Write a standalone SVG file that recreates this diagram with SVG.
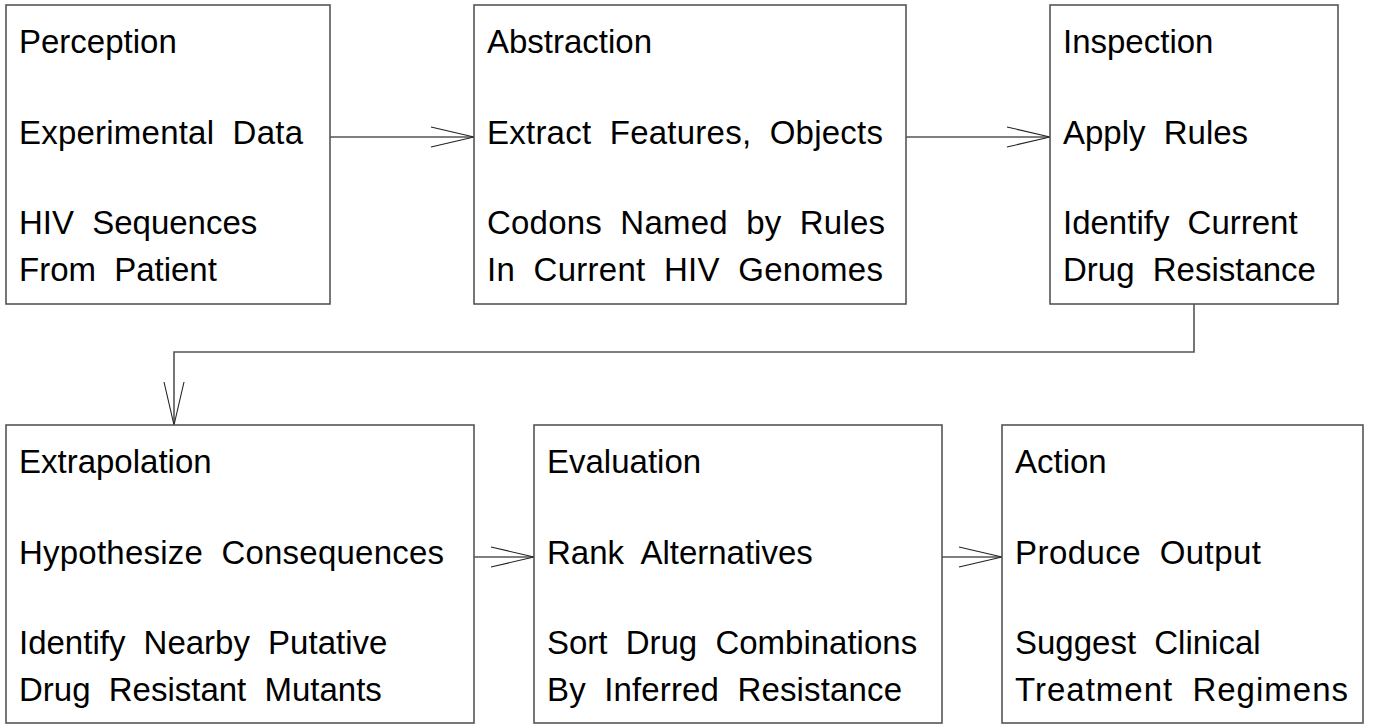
<svg xmlns="http://www.w3.org/2000/svg" width="1374" height="725" viewBox="0 0 1374 725">
<style>
.box{fill:#fff;stroke:#555;stroke-width:1.6}
.t{font-family:"Liberation Sans",Arial,sans-serif;font-size:33px;fill:#000;word-spacing:9px}
.ln{fill:none;stroke:#555;stroke-width:1.6}
.ah{fill:none;stroke:#222;stroke-width:1.1}
</style>
<rect width="1374" height="725" fill="#fff"/>
<g id="connectors">
<line class="ln" x1="330" y1="137" x2="474" y2="137"/>
<polyline class="ah" points="431,127 474,137 431,147"/>
<line class="ln" x1="906" y1="137" x2="1050" y2="137"/>
<polyline class="ah" points="1007,127 1050,137 1007,147"/>
<polyline class="ln" points="1194,304 1194,352 174,352 174,425"/>
<polyline class="ah" points="164,382 174,425 184,382"/>
<line class="ln" x1="474" y1="557" x2="534" y2="557"/>
<polyline class="ah" points="491,547 534,557 491,567"/>
<line class="ln" x1="942" y1="557" x2="1002" y2="557"/>
<polyline class="ah" points="959,547 1002,557 959,567"/>
</g>
<g id="perception">
<rect class="box" x="6" y="5" width="324" height="299"/>
<text class="t" x="19" y="53">Perception</text>
<text class="t" x="19" y="144" textLength="284" lengthAdjust="spacing">Experimental Data</text>
<text class="t" x="19" y="234">HIV Sequences</text>
<text class="t" x="19" y="281">From Patient</text>
</g>
<g id="abstraction">
<rect class="box" x="474" y="5" width="432" height="299"/>
<text class="t" x="487" y="53">Abstraction</text>
<text class="t" x="487" y="144" textLength="396" lengthAdjust="spacing">Extract Features, Objects</text>
<text class="t" x="487" y="234" textLength="398" lengthAdjust="spacing">Codons Named by Rules</text>
<text class="t" x="487" y="281" textLength="396" lengthAdjust="spacing">In Current HIV Genomes</text>
</g>
<g id="inspection">
<rect class="box" x="1050" y="5" width="288" height="299"/>
<text class="t" x="1063" y="53">Inspection</text>
<text class="t" x="1063" y="144">Apply Rules</text>
<text class="t" x="1063" y="234">Identify Current</text>
<text class="t" x="1063" y="281">Drug Resistance</text>
</g>
<g id="extrapolation">
<rect class="box" x="6" y="425" width="468" height="298"/>
<text class="t" x="19" y="473">Extrapolation</text>
<text class="t" x="19" y="564" textLength="425" lengthAdjust="spacing">Hypothesize Consequences</text>
<text class="t" x="19" y="654">Identify Nearby Putative</text>
<text class="t" x="19" y="701">Drug Resistant Mutants</text>
</g>
<g id="evaluation">
<rect class="box" x="534" y="425" width="408" height="298"/>
<text class="t" x="547" y="473">Evaluation</text>
<text class="t" x="547" y="564">Rank Alternatives</text>
<text class="t" x="547" y="654">Sort Drug Combinations</text>
<text class="t" x="547" y="701" textLength="355" lengthAdjust="spacing">By Inferred Resistance</text>
</g>
<g id="action">
<rect class="box" x="1002" y="425" width="361" height="298"/>
<text class="t" x="1015" y="473">Action</text>
<text class="t" x="1015" y="564" textLength="246" lengthAdjust="spacing">Produce Output</text>
<text class="t" x="1015" y="654">Suggest Clinical</text>
<text class="t" x="1015" y="701" textLength="333" lengthAdjust="spacing">Treatment Regimens</text>
</g>
</svg>
